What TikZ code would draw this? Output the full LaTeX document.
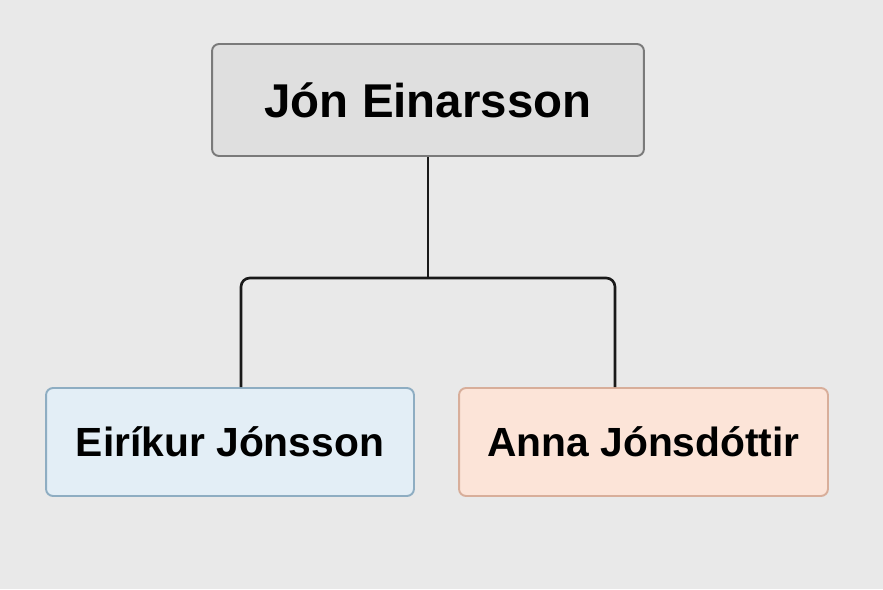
\documentclass[tikz,border=0pt]{standalone}
\usepackage{fontspec}
\setmainfont{Liberation Sans}
\usepackage{tikz}
\usetikzlibrary{calc}

\definecolor{bgcol}{HTML}{E9E9E9}
\definecolor{topfill}{HTML}{DFDFDF}
\definecolor{topline}{HTML}{7A7A7A}
\definecolor{bluefill}{HTML}{E3EEF6}
\definecolor{blueline}{HTML}{8EADC2}
\definecolor{redfill}{HTML}{FCE4D8}
\definecolor{redline}{HTML}{D8AE9A}

\begin{document}
\begin{tikzpicture}
	[x=0.02cm,y=-0.02cm,every node/.style={rectangle,rounded corners=4pt,line width=1.1pt,inner sep=0pt,font=\bfseries}]
	\tikzstyle{edges} = [line width=1.5pt, rounded corners=5pt, color=black!90];
	\tikzstyle{big} = [font=\bfseries\fontsize{27}{33}\selectfont];
	\tikzstyle{small} = [font=\bfseries\fontsize{23.2}{28}\selectfont];
	
	\fill[bgcol] (0,0) rectangle (883,589);
	
	\node[big, draw=topline, fill=topfill, minimum width=8.64cm, minimum height=2.24cm] (n0) at (428,100) {J\'on Einarsson};
	\node[small, draw=blueline, fill=bluefill, minimum width=7.36cm, minimum height=2.16cm] (n1) at (230,442) {Eir\'ikur\ J\'onsson};
	\node[small, draw=redline, fill=redfill, minimum width=7.38cm, minimum height=2.16cm] (n2) at (643.5,442) {Anna J\'onsd\'ottir};
	
	\coordinate (m) at (428,278);
	\coordinate (l1) at (241,0);
	\coordinate (r1) at (615,0);
	
	\draw[edges] (n0.south) -- (m);
	\draw[edges] (n1.north -| l1) |- (m) -| (n2.north -| r1);
\end{tikzpicture}
\end{document}
